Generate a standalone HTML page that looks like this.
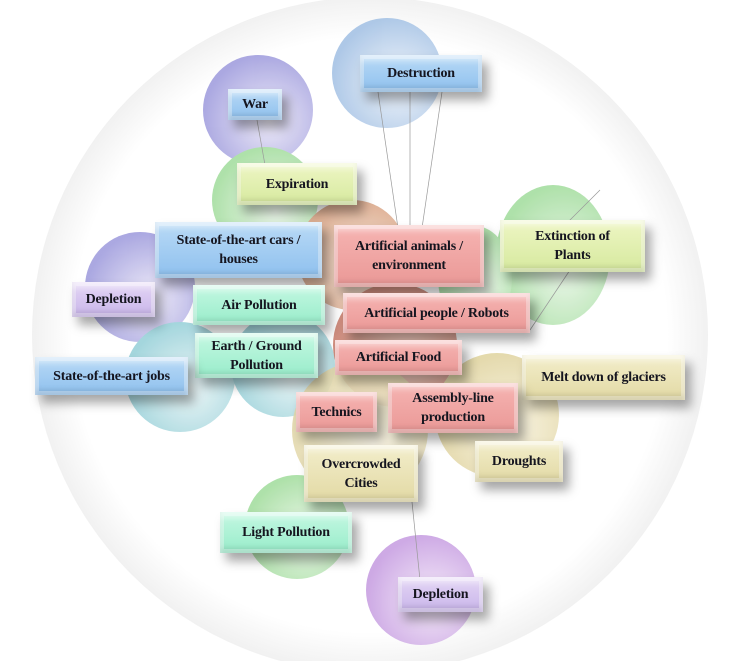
<!DOCTYPE html>
<html><head><meta charset="utf-8"><style>
html,body{margin:0;padding:0;background:#fff;}
#c{position:relative;width:741px;height:661px;overflow:hidden;background:#fff;}
.b{position:absolute;display:flex;align-items:center;justify-content:center;text-align:center;
font-family:"Liberation Serif",serif;font-weight:bold;font-size:14px;line-height:19px;color:#15151f;letter-spacing:-0.2px;
box-shadow:inset 0 0 0 4px rgba(255,255,255,.3),inset 0 6px 6px rgba(255,255,255,.45),inset 0 -5px 6px rgba(0,0,0,.12),6px 8px 10px rgba(0,0,0,.35);box-sizing:border-box;}
.bl{background:linear-gradient(#b9daf6,#8ec0ee);}
.yg{background:linear-gradient(#eef6c4,#d6e99e);}
.rd{background:linear-gradient(#f6b4b2,#ea9896);}
.pu{background:linear-gradient(#e4d6f5,#c9b5ea);}
.mi{background:linear-gradient(#c4f8e2,#98ecca);}
.tn{background:linear-gradient(#f3eecb,#e2d9a4);}
</style></head><body><div id="c">
<svg width="741" height="661" style="position:absolute;left:0;top:0">
<defs>
<radialGradient id="bg" cx="50%" cy="50%" r="50%"><stop offset="88%" stop-color="#fff"/><stop offset="100%" stop-color="#f1f1f1"/></radialGradient>
<radialGradient id="gb" cx="60%" cy="60%" r="60%"><stop offset="0" stop-color="#eef3fa"/><stop offset="1" stop-color="#a6c3e5"/></radialGradient>
<radialGradient id="gp" cx="60%" cy="60%" r="60%"><stop offset="0" stop-color="#ece9f8"/><stop offset="1" stop-color="#a29fde"/></radialGradient>
<radialGradient id="gv" cx="60%" cy="60%" r="60%"><stop offset="0" stop-color="#f3e8f8"/><stop offset="1" stop-color="#c8a0e2"/></radialGradient>
<radialGradient id="gg" cx="60%" cy="60%" r="60%"><stop offset="0" stop-color="#ebf7e9"/><stop offset="1" stop-color="#a6dea1"/></radialGradient>
<radialGradient id="gt" cx="60%" cy="60%" r="60%"><stop offset="0" stop-color="#e9f5f6"/><stop offset="1" stop-color="#9bd2da"/></radialGradient>
<radialGradient id="go" cx="60%" cy="60%" r="60%"><stop offset="0" stop-color="#f6e6d8"/><stop offset="1" stop-color="#dba88a"/></radialGradient>
<radialGradient id="gr" cx="60%" cy="60%" r="60%"><stop offset="0" stop-color="#f2d0c2"/><stop offset="1" stop-color="#cb8272"/></radialGradient>
<radialGradient id="gy" cx="60%" cy="60%" r="60%"><stop offset="0" stop-color="#f8f3e0"/><stop offset="1" stop-color="#e2d6a4"/></radialGradient>
</defs>
<circle cx="370" cy="335" r="338" fill="url(#bg)"/>
<g opacity=".9">
<circle cx="387" cy="73" r="55" fill="url(#gb)"/>
<circle cx="258" cy="110" r="55" fill="url(#gp)"/>
<circle cx="265" cy="200" r="53" fill="url(#gg)"/>
<circle cx="140" cy="287" r="55" fill="url(#gp)"/>
<circle cx="180" cy="377" r="55" fill="url(#gt)"/>
<circle cx="283" cy="365" r="52" fill="url(#gt)"/>
<ellipse cx="553" cy="255" rx="57" ry="70" fill="url(#gg)"/>
<ellipse cx="475" cy="278" rx="37" ry="52" fill="url(#gg)"/>
<circle cx="352" cy="255" r="55" fill="url(#go)"/>
<circle cx="395" cy="345" r="62" fill="url(#gr)"/>
<circle cx="497" cy="415" r="62" fill="url(#gy)"/>
<circle cx="360" cy="430" r="68" fill="url(#gy)" opacity=".9"/>
<circle cx="297" cy="527" r="52" fill="url(#gg)"/>
<circle cx="421" cy="590" r="55" fill="url(#gv)"/>
</g>
<g stroke="#999" stroke-width=".7" fill="none">
<line x1="378" y1="92" x2="398" y2="228"/><line x1="410" y1="92" x2="410" y2="228"/><line x1="442" y1="92" x2="422" y2="228"/>
<line x1="257" y1="120" x2="265" y2="165"/><line x1="412" y1="502" x2="420" y2="580"/>
<line x1="600" y1="190" x2="560" y2="230"/><line x1="570" y1="270" x2="530" y2="330"/>
</g>
</svg>
<div class="b bl" style="left:360px;top:55px;width:122px;height:37px">Destruction</div>
<div class="b bl" style="left:228px;top:89px;width:54px;height:31px">War</div>
<div class="b yg" style="left:237px;top:163px;width:120px;height:42px">Expiration</div>
<div class="b bl" style="left:155px;top:222px;width:167px;height:56px">State-of-the-art cars /<br>houses</div>
<div class="b rd" style="left:334px;top:225px;width:150px;height:62px">Artificial animals /<br>environment</div>
<div class="b yg" style="left:500px;top:220px;width:145px;height:52px">Extinction of<br>Plants</div>
<div class="b pu" style="left:72px;top:282px;width:83px;height:35px">Depletion</div>
<div class="b mi" style="left:193px;top:285px;width:132px;height:40px">Air Pollution</div>
<div class="b rd" style="left:343px;top:293px;width:187px;height:40px">Artificial people / Robots</div>
<div class="b mi" style="left:195px;top:333px;width:123px;height:45px">Earth / Ground<br>Pollution</div>
<div class="b rd" style="left:335px;top:340px;width:127px;height:35px">Artificial Food</div>
<div class="b bl" style="left:35px;top:357px;width:153px;height:38px">State-of-the-art jobs</div>
<div class="b tn" style="left:522px;top:355px;width:163px;height:45px">Melt down of glaciers</div>
<div class="b rd" style="left:296px;top:392px;width:81px;height:40px">Technics</div>
<div class="b rd" style="left:388px;top:383px;width:130px;height:50px">Assembly-line<br>production</div>
<div class="b tn" style="left:475px;top:441px;width:88px;height:41px">Droughts</div>
<div class="b tn" style="left:304px;top:445px;width:114px;height:57px">Overcrowded<br>Cities</div>
<div class="b mi" style="left:220px;top:512px;width:132px;height:41px">Light Pollution</div>
<div class="b pu" style="left:398px;top:577px;width:85px;height:35px">Depletion</div>
</div></body></html>
